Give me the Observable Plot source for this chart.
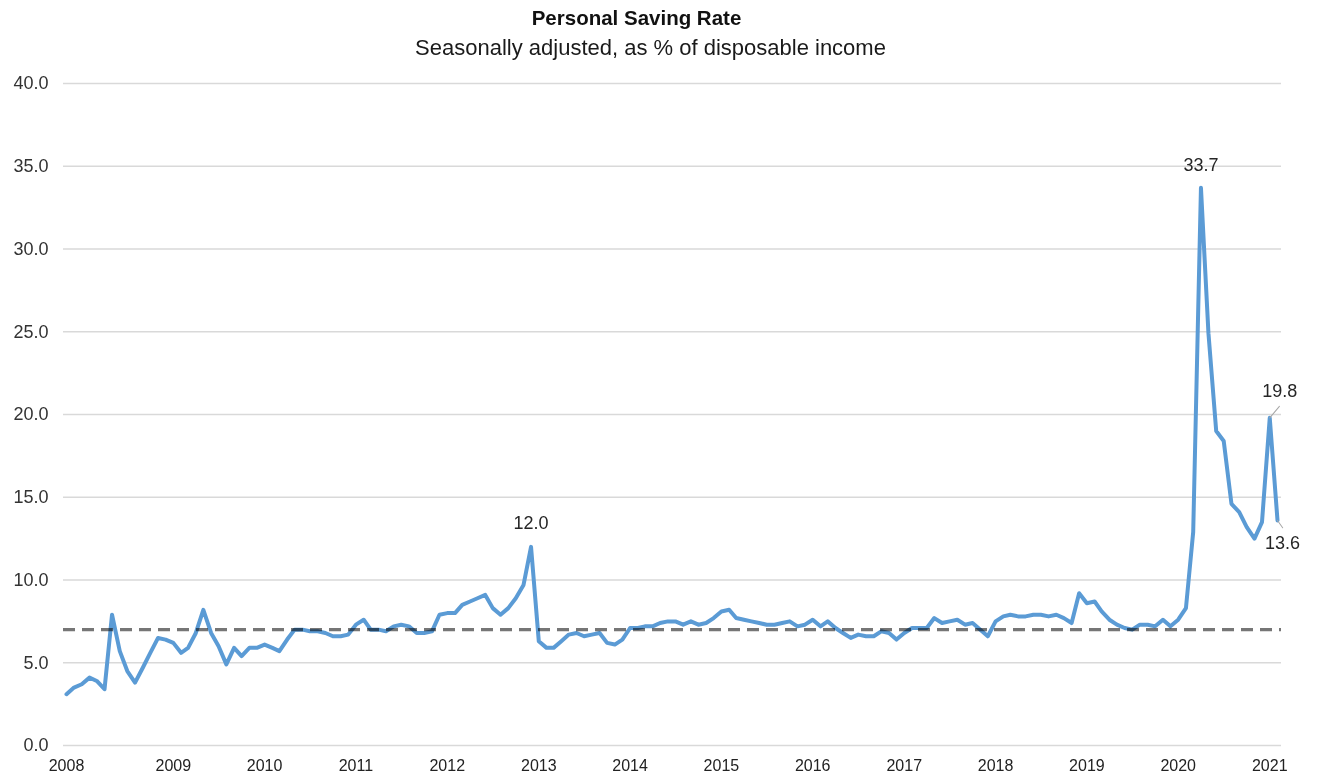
<!DOCTYPE html>
<html>
<head>
<meta charset="utf-8">
<script src="https://cdn.jsdelivr.net/npm/d3@7"></script>
<script src="https://cdn.jsdelivr.net/npm/@observablehq/plot@0.6"></script>
<style>
  body { margin: 0; background: #fff; font-family: "Liberation Sans", Arial, sans-serif; }
  #hdr { width: 1319px; height: 62px; box-sizing: border-box; padding-top: 6px; text-align: center; color: #111; }
  #hdr .t { font-weight: bold; font-size: 20.5px; line-height: 24px; transform: translateX(-23px); }
  #hdr .s { font-size: 22px; line-height: 30px; margin-top: 3px; transform: translateX(-9px); color: #1a1a1a; }
  #chart svg { display: block; }
</style>
</head>
<body>
<div id="hdr">
  <div class="t">Personal Saving Rate</div>
  <div class="s">Seasonally adjusted, as % of disposable income</div>
</div>
<div id="chart"></div>
<script>
// ---- Data (monthly, starting November 2007) ----
const firstMonth = "2007-11";
const savingRate = [
  3.1, 3.5,                                                   // 2007 Nov-Dec
  3.7, 4.1, 3.9, 3.4, 7.9, 5.7, 4.5, 3.8, 4.7, 5.6, 6.5, 6.4, // 2008
  6.2, 5.6, 5.9, 6.8, 8.2, 6.8, 6.0, 4.9, 5.9, 5.4, 5.9, 5.9, // 2009
  6.1, 5.9, 5.7, 6.4, 7.0, 7.0, 6.9, 6.9, 6.8, 6.6, 6.6, 6.7, // 2010
  7.3, 7.6, 7.0, 7.0, 6.9, 7.2, 7.3, 7.2, 6.8, 6.8, 6.9, 7.9, // 2011
  8.0, 8.0, 8.5, 8.7, 8.9, 9.1, 8.3, 7.9, 8.3, 8.9, 9.7, 12.0, // 2012
  6.3, 5.9, 5.9, 6.3, 6.7, 6.8, 6.6, 6.7, 6.8, 6.2, 6.1, 6.4, // 2013
  7.1, 7.1, 7.2, 7.2, 7.4, 7.5, 7.5, 7.3, 7.5, 7.3, 7.4, 7.7, // 2014
  8.1, 8.2, 7.7, 7.6, 7.5, 7.4, 7.3, 7.3, 7.4, 7.5, 7.2, 7.3, // 2015
  7.6, 7.2, 7.5, 7.1, 6.8, 6.5, 6.7, 6.6, 6.6, 6.9, 6.8, 6.4, // 2016
  6.8, 7.1, 7.1, 7.1, 7.7, 7.4, 7.5, 7.6, 7.3, 7.4, 7.0, 6.6, // 2017
  7.5, 7.8, 7.9, 7.8, 7.8, 7.9, 7.9, 7.8, 7.9, 7.7, 7.4, 9.2, // 2018
  8.6, 8.7, 8.1, 7.6, 7.3, 7.1, 7.0, 7.3, 7.3, 7.2, 7.6, 7.2, // 2019
  7.6, 8.3, 12.9, 33.7, 24.9, 19.0, 18.4, 14.6, 14.1, 13.2, 12.5, 13.5, // 2020
  19.8, 13.6                                                  // 2021 Jan-Feb
];
const referenceLevel = 7.0;
const yTicks = [0, 5, 10, 15, 20, 25, 30, 35, 40];
const xTickMonths = ["2007-11", "2009-01", "2010-01", "2011-01", "2012-01", "2013-01", "2014-01",
                     "2015-01", "2016-01", "2017-01", "2018-01", "2019-01", "2020-01", "2021-01"];
const xTickLabels = ["2008", "2009", "2010", "2011", "2012", "2013", "2014",
                     "2015", "2016", "2017", "2018", "2019", "2020", "2021"];
const labeledMonths = ["2012-12", "2020-04", "2021-01", "2021-02"];

// ---- Build table ----
const parseMonth = d3.utcParse("%Y-%m");
const start = parseMonth(firstMonth);
const data = savingRate.map((v, i) => ({ date: d3.utcMonth.offset(start, i), value: v }));
const keyOf = d => d3.utcFormat("%Y-%m")(d);
const pick = m => data.filter(d => keyOf(d.date) === m);
const xTicks = xTickMonths.map(parseMonth);

const font = `"Liberation Sans", Arial, sans-serif`;

const chart = Plot.plot({
  width: 1319,
  height: 720,
  marginTop: 21,
  marginBottom: 37,
  marginLeft: 63,
  marginRight: 38,
  style: { fontFamily: font, background: "#fff" },
  x: { type: "utc", domain: [data[0].date, data[data.length - 1].date], insetLeft: 3, insetRight: 4 },
  y: { domain: [0, 40] },
  marks: [
    Plot.ruleY(yTicks, { stroke: "#d9d9d9", strokeWidth: 1.6 }),
    Plot.lineY(data, { x: "date", y: "value", stroke: "#5b9bd5", strokeWidth: 4, strokeLinejoin: "round" }),
    Plot.ruleY([referenceLevel], { stroke: "#767676", strokeWidth: 3.2, strokeDasharray: "12,7", mixBlendMode: "multiply" }),
    Plot.vector(pick("2021-01"), { x: "date", y: "value", length: 15, rotate: 40, anchor: "start", shape: "spike", r: 0, stroke: "#a6a6a6", strokeWidth: 1, fill: "none" }),
    Plot.vector(pick("2021-02"), { x: "date", y: "value", length: 9, rotate: 145, anchor: "start", shape: "spike", r: 0, stroke: "#a6a6a6", strokeWidth: 1, fill: "none" }),
    Plot.text(pick(labeledMonths[0]), { x: "date", y: "value", text: d => d.value.toFixed(1), dy: -24, fontSize: 18, fill: "#262626" }),
    Plot.text(pick(labeledMonths[1]), { x: "date", y: "value", text: d => d.value.toFixed(1), dy: -23, fontSize: 18, fill: "#262626" }),
    Plot.text(pick(labeledMonths[2]), { x: "date", y: "value", text: d => d.value.toFixed(1), dx: 10, dy: -27, fontSize: 18, fill: "#262626" }),
    Plot.text(pick(labeledMonths[3]), { x: "date", y: "value", text: d => d.value.toFixed(1), dx: 5, dy: 23, fontSize: 18, fill: "#262626" }),
    Plot.axisY({ ticks: yTicks, tickSize: 0, tickPadding: 15, tickFormat: d => d.toFixed(1), fontSize: 18, color: "#333", label: null }),
    Plot.axisX({ ticks: xTicks, tickSize: 0, tickPadding: 14, tickFormat: (d, i) => xTickLabels[i], fontSize: 16, color: "#222", label: null })
  ]
});
document.getElementById("chart").appendChild(chart);
</script>
</body>
</html>
